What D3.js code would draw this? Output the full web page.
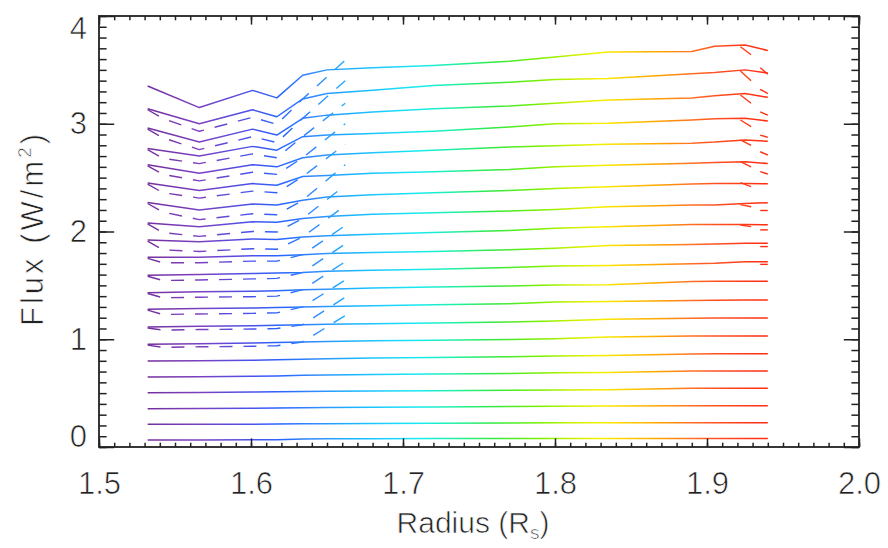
<!DOCTYPE html>
<html>
<head>
<meta charset="utf-8">
<script src="https://cdn.jsdelivr.net/npm/d3@7"></script>
<style>
  html, body { margin: 0; padding: 0; background: #fff; }
  svg { display: block; }
</style>
</head>
<body>
<svg id="chart" width="888" height="548"></svg>
<script>
// Radial sample points (R_s) shared by every flux curve
const radius = [1.532, 1.566, 1.601, 1.617, 1.634, 1.650, 1.680, 1.720, 1.770, 1.800, 1.835, 1.890, 1.905, 1.925, 1.940];

// Flux (W/m^2) along each curve, top curve first
const solidFlux = [
  [3.35, 3.15, 3.31, 3.24, 3.45, 3.50, 3.52, 3.54, 3.58, 3.62, 3.665, 3.67, 3.72, 3.73, 3.68],
  [3.14, 3.00, 3.13, 3.065, 3.23, 3.28, 3.31, 3.355, 3.385, 3.41, 3.42, 3.465, 3.475, 3.50, 3.47],
  [2.96, 2.83, 2.95, 2.895, 3.05, 3.08, 3.11, 3.14, 3.165, 3.19, 3.22, 3.24, 3.26, 3.28, 3.245],
  [2.77, 2.70, 2.79, 2.755, 2.88, 2.895, 2.91, 2.93, 2.97, 3.00, 3.005, 3.035, 3.047, 3.05, 3.025],
  [2.62, 2.54, 2.62, 2.60, 2.685, 2.71, 2.73, 2.755, 2.785, 2.795, 2.81, 2.82, 2.83, 2.85, 2.837],
  [2.45, 2.38, 2.445, 2.43, 2.51, 2.52, 2.54, 2.555, 2.575, 2.60, 2.615, 2.633, 2.64, 2.648, 2.63],
  [2.27, 2.20, 2.255, 2.245, 2.29, 2.32, 2.34, 2.36, 2.38, 2.40, 2.415, 2.44, 2.445, 2.445, 2.444],
  [2.08, 2.045, 2.09, 2.085, 2.12, 2.14, 2.16, 2.175, 2.19, 2.205, 2.23, 2.245, 2.245, 2.26, 2.267],
  [1.92, 1.905, 1.93, 1.925, 1.95, 1.96, 1.975, 1.99, 2.01, 2.03, 2.045, 2.065, 2.065, 2.065, 2.063],
  [1.76, 1.76, 1.775, 1.775, 1.785, 1.795, 1.805, 1.815, 1.83, 1.845, 1.87, 1.88, 1.885, 1.89, 1.89],
  [1.594, 1.60, 1.61, 1.615, 1.62, 1.63, 1.64, 1.65, 1.665, 1.68, 1.685, 1.70, 1.705, 1.72, 1.72],
  [1.432, 1.44, 1.445, 1.45, 1.46, 1.465, 1.475, 1.485, 1.495, 1.503, 1.505, 1.535, 1.538, 1.538, 1.538],
  [1.278, 1.285, 1.29, 1.295, 1.30, 1.305, 1.31, 1.32, 1.33, 1.345, 1.35, 1.36, 1.362, 1.364, 1.364],
  [1.114, 1.12, 1.125, 1.13, 1.135, 1.14, 1.145, 1.15, 1.16, 1.17, 1.185, 1.195, 1.197, 1.197, 1.197],
  [0.953, 0.958, 0.965, 0.97, 0.975, 0.98, 0.985, 0.99, 0.997, 1.005, 1.02, 1.03, 1.03, 1.03, 1.03],
  [0.798, 0.80, 0.805, 0.81, 0.815, 0.82, 0.825, 0.83, 0.838, 0.845, 0.85, 0.863, 0.865, 0.866, 0.866],
  [0.65, 0.652, 0.657, 0.66, 0.665, 0.668, 0.672, 0.677, 0.683, 0.69, 0.692, 0.705, 0.705, 0.705, 0.705],
  [0.504, 0.506, 0.51, 0.512, 0.515, 0.518, 0.52, 0.523, 0.527, 0.529, 0.532, 0.545, 0.545, 0.545, 0.545],
  [0.356, 0.357, 0.36, 0.362, 0.365, 0.367, 0.37, 0.372, 0.375, 0.378, 0.38, 0.382, 0.383, 0.383, 0.383],
  [0.21, 0.211, 0.212, 0.213, 0.215, 0.216, 0.218, 0.22, 0.222, 0.224, 0.225, 0.226, 0.226, 0.226, 0.226],
  [0.065, 0.066, 0.067, 0.068, 0.075, 0.076, 0.077, 0.078, 0.078, 0.079, 0.079, 0.08, 0.08, 0.08, 0.08]
];

// Inner-corona companion curves (dashed), sampled on a shorter radial range
const dashRadius = [1.532, 1.542, 1.566, 1.601, 1.617, 1.634, 1.662];
const dashFlux = [
  [3.13, 3.05, 2.93, 3.06, 2.995, 3.23, 3.59],
  [2.95, 2.87, 2.76, 2.88, 2.825, 3.05, 3.40],
  [2.76, 2.68, 2.63, 2.72, 2.685, 2.88, 3.19],
  [2.61, 2.53, 2.47, 2.55, 2.53, 2.685, 3.00],
  [2.44, 2.36, 2.31, 2.375, 2.36, 2.51, 2.81],
  [2.26, 2.18, 2.11, 2.165, 2.155, 2.29, 2.62],
  [2.07, 1.99, 1.955, 2.00, 1.995, 2.12, 2.43],
  [1.91, 1.83, 1.815, 1.84, 1.835, 1.95, 2.24],
  [1.75, 1.71, 1.71, 1.725, 1.725, 1.785, 2.055],
  [1.585, 1.545, 1.55, 1.56, 1.565, 1.62, 1.885],
  [1.425, 1.385, 1.39, 1.395, 1.40, 1.46, 1.72],
  [1.27, 1.23, 1.235, 1.24, 1.245, 1.30, 1.55],
  [1.105, 1.085, 1.09, 1.095, 1.10, 1.135, 1.39],
  [0.945, 0.925, 0.93, 0.935, 0.94, 0.975, 1.22]
];

// Short outer-edge strokes near the last radial samples
const tailRadiusA = [1.922, 1.929];
const tailFluxA = [
  [3.715, 3.64], [3.49, 3.40], [3.267, 3.19], [3.035, 2.973],
  [2.85, 2.80], [2.648, 2.60], [2.453, 2.416], [2.25, 2.23], [2.06, 2.045]
];
const tailRadiusB = [1.935, 1.940];
const tailFluxB = [
  [3.52, 3.46], [3.32, 3.28], [3.11, 3.08], [2.895, 2.874],
  [2.74, 2.71], [2.555, 2.534], [2.195, 2.195], [2.015, 2.015], [1.86, 1.86], [1.695, 1.695]
];

// Axis ticks and labels
const xMajorTicks = [1.5, 1.6, 1.7, 1.8, 1.9, 2.0];
const xTickLabels = ["1.5", "1.6", "1.7", "1.8", "1.9", "2.0"];
const yMajorTicks = [0, 1, 2, 3, 4];
const yTickLabels = ["0", "1", "2", "3", "4"];

// Rainbow colour table indexed by radius
const rainbowRadius = [1.532, 1.566, 1.600, 1.620, 1.645, 1.665, 1.690, 1.712, 1.735, 1.760, 1.790, 1.810, 1.830, 1.850, 1.870, 1.890, 1.910, 1.940];
const rainbowColor  = ["#74309e", "#7c40c0", "#4a52ea", "#2a66ff", "#3090ff", "#1cb0ff", "#1cd2ff", "#18ecec", "#20f0a0", "#34e840", "#78f000", "#c4f000", "#f6f000", "#ffc800", "#ffa000", "#ff7024", "#ff4a20", "#ff2a10"];

const W = 888, H = 548;
const plot = { left: 99, right: 859, top: 16, bottom: 447 };
const ink = "#222";
const fontFamily = "'Liberation Sans', Arial, Helvetica, sans-serif";

const svg = d3.select("#chart");
const x = d3.scaleLinear().domain([1.5, 2.0]).range([plot.left, plot.right]);
const y = d3.scaleLinear().domain([0, 4]).range([plot.bottom, plot.top]);

// Colour gradient along the radius axis, shared by all curves
const defs = svg.append("defs");
const grad = defs.append("linearGradient")
  .attr("id", "rainbow")
  .attr("gradientUnits", "userSpaceOnUse")
  .attr("x1", x(rainbowRadius[0])).attr("x2", x(rainbowRadius[rainbowRadius.length - 1]))
  .attr("y1", 0).attr("y2", 0);
const r0 = rainbowRadius[0], r1 = rainbowRadius[rainbowRadius.length - 1];
rainbowRadius.forEach((r, i) => {
  grad.append("stop")
    .attr("offset", ((r - r0) / (r1 - r0)).toFixed(4))
    .attr("stop-color", rainbowColor[i]);
});

const line = d3.line()
  .x(d => x(d[0]))
  .y(d => y(d[1]));

const curves = svg.append("g").attr("fill", "none").attr("stroke", "url(#rainbow)")
  .attr("stroke-linejoin", "round");

// Dashed companions
curves.selectAll("path.dash")
  .data(dashFlux.map(vals => vals.map((v, i) => [dashRadius[i], v])))
  .join("path")
  .attr("class", "dash")
  .attr("stroke-width", 1.4)
  .attr("stroke-dasharray", "13 11")
  .attr("d", line);

// Outer-edge strokes
curves.selectAll("path.tailA")
  .data(tailFluxA.map(vals => vals.map((v, i) => [tailRadiusA[i], v])))
  .join("path")
  .attr("class", "tailA")
  .attr("stroke-width", 1.4)
  .attr("d", line);
curves.selectAll("path.tailB")
  .data(tailFluxB.map(vals => vals.map((v, i) => [tailRadiusB[i], v])))
  .join("path")
  .attr("class", "tailB")
  .attr("stroke-width", 1.4)
  .attr("d", line);

// Main flux curves
curves.selectAll("path.solid")
  .data(solidFlux.map(vals => vals.map((v, i) => [radius[i], v])))
  .join("path")
  .attr("class", "solid")
  .attr("stroke-width", 1.5)
  .attr("d", line);

// Axes: ticks point inward on all four sides
const xMajorLen = 8.6, xMinorLen = 4.3, yMajorLen = 15.2, yMinorLen = 7.6;
const xMinor = x.ticks(50);
const yMinor = y.ticks(40);

function styleAxis(g) {
  g.select(".domain").remove();
  g.selectAll(".tick line").attr("stroke", ink).attr("stroke-width", 1.5);
  g.attr("font-family", fontFamily).attr("font-size", 31);
  g.selectAll(".tick text")
    .attr("fill", ink)
    .attr("stroke", "#fff")
    .attr("stroke-width", 0.7);
}

svg.append("g").attr("transform", `translate(0,${plot.bottom})`)
  .call(d3.axisBottom(x).tickValues(xMinor).tickSizeInner(-xMinorLen).tickSizeOuter(0).tickFormat(""))
  .call(styleAxis);
svg.append("g").attr("transform", `translate(0,${plot.bottom})`)
  .call(d3.axisBottom(x).tickValues(xMajorTicks).tickSizeInner(-xMajorLen).tickSizeOuter(0)
    .tickPadding(25).tickFormat((d, i) => xTickLabels[i]))
  .call(styleAxis);
svg.append("g").attr("transform", `translate(0,${plot.top})`)
  .call(d3.axisTop(x).tickValues(xMinor).tickSizeInner(-xMinorLen).tickSizeOuter(0).tickFormat(""))
  .call(styleAxis);
svg.append("g").attr("transform", `translate(0,${plot.top})`)
  .call(d3.axisTop(x).tickValues(xMajorTicks).tickSizeInner(-xMajorLen).tickSizeOuter(0).tickFormat(""))
  .call(styleAxis);

svg.append("g").attr("transform", `translate(${plot.left},0)`)
  .call(d3.axisLeft(y).tickValues(yMinor).tickSizeInner(-yMinorLen).tickSizeOuter(0).tickFormat(""))
  .call(styleAxis);
const yAxisG = svg.append("g").attr("transform", `translate(${plot.left},0)`)
  .call(d3.axisLeft(y).tickValues(yMajorTicks).tickSizeInner(-yMajorLen).tickSizeOuter(0)
    .tickPadding(12).tickFormat((d, i) => yTickLabels[i]))
  .call(styleAxis);
// End labels sit inside the axis span
yAxisG.selectAll(".tick text")
  .attr("y", d => d === 0 ? -10 : (d === 4 ? 13 : 0));

svg.append("g").attr("transform", `translate(${plot.right},0)`)
  .call(d3.axisRight(y).tickValues(yMinor).tickSizeInner(-yMinorLen).tickSizeOuter(0).tickFormat(""))
  .call(styleAxis);
svg.append("g").attr("transform", `translate(${plot.right},0)`)
  .call(d3.axisRight(y).tickValues(yMajorTicks).tickSizeInner(-yMajorLen).tickSizeOuter(0).tickFormat(""))
  .call(styleAxis);

// Plot frame
svg.append("rect")
  .attr("x", plot.left).attr("y", plot.top)
  .attr("width", plot.right - plot.left).attr("height", plot.bottom - plot.top)
  .attr("fill", "none").attr("stroke", ink).attr("stroke-width", 1.8);

// Axis titles
const xTitle = svg.append("text")
  .attr("x", (plot.left + plot.right) / 2 - 6).attr("y", 533)
  .attr("text-anchor", "middle")
  .attr("font-family", fontFamily).attr("font-size", 30)
  .attr("fill", ink).attr("stroke", "#fff").attr("stroke-width", 0.7);
xTitle.append("tspan").text("Radius (R");
xTitle.append("tspan").attr("font-size", 19).attr("dy", 6).text("s");
xTitle.append("tspan").attr("dy", -6).text(")");

const yTitle = svg.append("text")
  .attr("transform", `translate(43,${(plot.top + plot.bottom) / 2 - 3}) rotate(-90)`)
  .attr("text-anchor", "middle")
  .attr("font-family", fontFamily).attr("font-size", 31)
  .attr("letter-spacing", 3)
  .attr("fill", ink).attr("stroke", "#fff").attr("stroke-width", 0.7);
yTitle.append("tspan").text("Flux (W/m");
yTitle.append("tspan").attr("font-size", 19).attr("dy", -12).text("2");
yTitle.append("tspan").attr("dy", 12).text(")");
</script>
</body>
</html>
